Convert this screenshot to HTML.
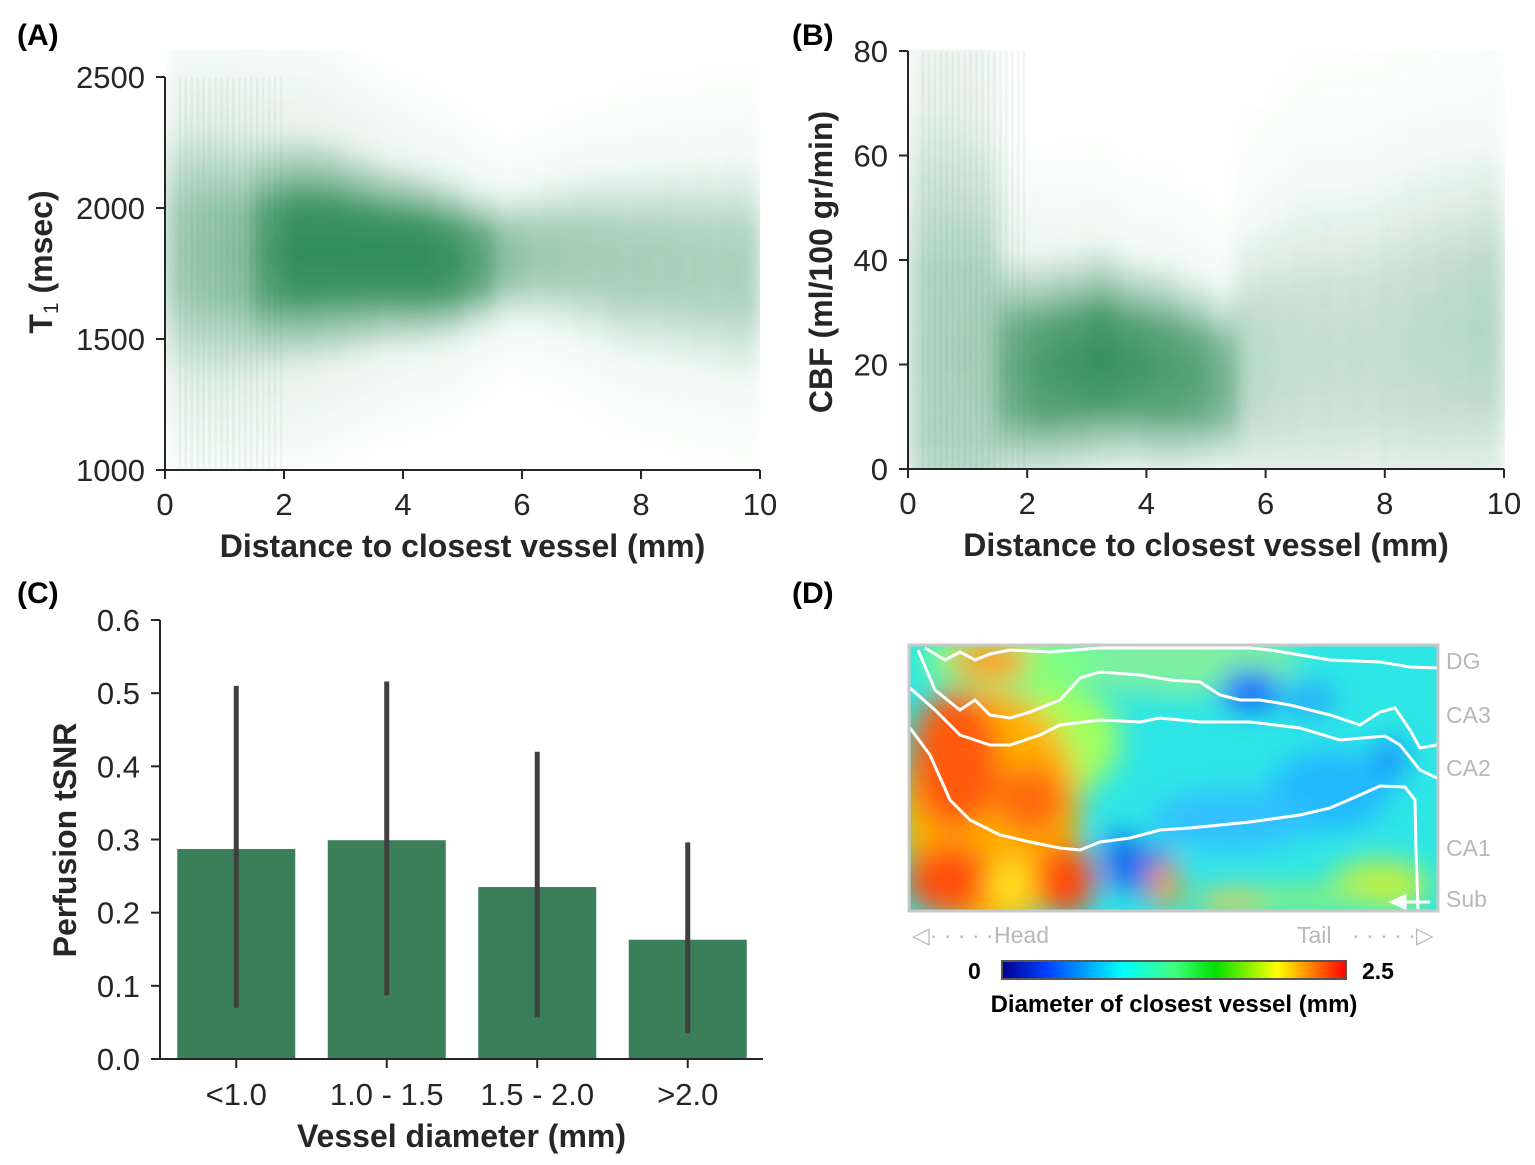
<!DOCTYPE html>
<html><head><meta charset="utf-8">
<style>
body{margin:0;background:#fff;}
svg{display:block;font-family:"Liberation Sans",Arial,sans-serif;}
.tick{font-size:31px;fill:#262626;}
.lab{font-size:32px;font-weight:bold;fill:#262626;}
.pl{font-size:30px;font-weight:bold;fill:#000;}
.ax{stroke:#262626;stroke-width:2;fill:none;}
</style></head>
<body>
<svg id="fig" width="1535" height="1165" viewBox="0 0 1535 1165">
<defs>
<linearGradient id="vg" x1="0" y1="0" x2="0" y2="1">
<stop offset="0" stop-color="#2e8b57" stop-opacity="0"/>
<stop offset="0.15" stop-color="#2e8b57" stop-opacity="0.35"/>
<stop offset="0.32" stop-color="#2e8b57" stop-opacity="0.9"/>
<stop offset="0.5" stop-color="#2e8b57" stop-opacity="1"/>
<stop offset="0.68" stop-color="#2e8b57" stop-opacity="0.9"/>
<stop offset="0.85" stop-color="#2e8b57" stop-opacity="0.35"/>
<stop offset="1" stop-color="#2e8b57" stop-opacity="0"/>
</linearGradient>
<filter id="bl" x="-10%" y="-10%" width="120%" height="120%"><feGaussianBlur stdDeviation="9 7"/></filter>
<filter id="hb" x="-20%" y="-20%" width="140%" height="140%"><feGaussianBlur stdDeviation="14"/></filter>
<clipPath id="clipA"><rect x="166" y="50" width="594" height="419"/></clipPath>
<clipPath id="clipB"><rect x="909" y="50" width="596" height="419"/></clipPath>
<clipPath id="clipD"><rect x="910" y="646" width="527" height="264"/></clipPath>
<linearGradient id="jet" x1="0" x2="1" y1="0" y2="0">
<stop offset="0" stop-color="#00008f"/><stop offset="0.13" stop-color="#0040ff"/>
<stop offset="0.35" stop-color="#00ffff"/><stop offset="0.5" stop-color="#40ff80"/>
<stop offset="0.62" stop-color="#00e000"/><stop offset="0.8" stop-color="#ffff00"/>
<stop offset="0.9" stop-color="#ff8000"/><stop offset="1" stop-color="#ff0000"/>
</linearGradient>
</defs>

<text class="pl" x="17" y="45">(A)</text>
<text class="pl" x="792" y="45">(B)</text>
<text class="pl" x="17" y="603">(C)</text>
<text class="pl" x="792" y="603">(D)</text>

<g id="panelA"></g>
<g id="panelB"></g>
<g id="panelC"></g>

<g>
<g clip-path="url(#clipD)">
<rect x="909" y="645" width="530" height="266" fill="#2ee6e6"/>
<g filter="url(#hb)">
<ellipse cx="1180" cy="660" rx="120" ry="35" fill="#7ff0a0"/>
<ellipse cx="1250" cy="690" rx="30" ry="20" fill="#1060ff"/>
<ellipse cx="1310" cy="700" rx="25" ry="15" fill="#20a0ff"/>
<ellipse cx="1390" cy="760" rx="15" ry="20" fill="#1080ff"/>
<ellipse cx="1330" cy="790" rx="60" ry="40" fill="#20b8ff"/>
<ellipse cx="1230" cy="820" rx="80" ry="30" fill="#30c0ff"/>
<ellipse cx="1150" cy="870" rx="25" ry="25" fill="#1a6cf0"/>
<ellipse cx="1120" cy="860" rx="15" ry="30" fill="#1060f0"/>
<ellipse cx="1380" cy="885" rx="50" ry="25" fill="#c0f040"/>
<ellipse cx="1300" cy="900" rx="70" ry="15" fill="#80f080"/>
<ellipse cx="1230" cy="902" rx="35" ry="12" fill="#f0d040"/>
<ellipse cx="1165" cy="885" rx="15" ry="25" fill="#ff9a00"/>
<ellipse cx="1010" cy="660" rx="90" ry="30" fill="#80ff80"/>
<ellipse cx="1060" cy="740" rx="60" ry="55" fill="#a0ff60"/>
<ellipse cx="990" cy="810" rx="90" ry="120" fill="#ffb000"/>
<ellipse cx="990" cy="660" rx="40" ry="20" fill="#ff9a10"/>
<ellipse cx="955" cy="760" rx="45" ry="70" fill="#ff5a10"/>
<ellipse cx="1030" cy="800" rx="35" ry="35" fill="#ff6a10"/>
<ellipse cx="950" cy="880" rx="45" ry="35" fill="#ff5010"/>
<ellipse cx="1065" cy="880" rx="30" ry="35" fill="#ff4a10"/>
<ellipse cx="1010" cy="885" rx="25" ry="25" fill="#ffe020"/>
</g>
<g fill="none" stroke="#fff" stroke-width="3">
<path d="M925,648 L945,660 L960,652 L975,660 L990,654 L1010,650 L1050,652 L1100,648 L1250,648 L1270,650 L1300,655 L1330,660 L1380,662 L1410,667 L1437,668"/>
<path d="M918,650 L935,690 L960,710 L975,700 L990,715 L1010,718 L1030,712 L1060,700 L1080,678 L1100,672 L1140,675 L1170,680 L1200,682 L1220,695 L1240,700 L1260,700 L1290,705 L1330,715 L1360,725 L1380,712 L1395,708 L1410,730 L1420,748 L1437,745"/>
<path d="M910,688 L935,710 L960,735 L990,745 L1010,745 L1040,735 L1060,725 L1100,720 L1140,722 L1160,718 L1200,722 L1250,722 L1300,728 L1340,740 L1385,736 L1400,745 L1420,770 L1437,778"/>
<path d="M910,728 L930,755 L950,800 L970,820 L1000,835 L1030,842 L1060,848 L1080,850 L1100,842 L1130,838 L1160,830 L1190,828 L1220,825 L1250,822 L1300,815 L1330,808 L1360,795 L1380,786 L1405,787 L1415,800 L1416,850 L1418,909"/>
<path d="M1392,902 L1430,902"/>
<path d="M1392,902 L1405,896 L1405,908 Z" fill="#fff"/>
</g>
</g>
<rect x="909" y="645" width="529" height="266" fill="none" stroke="#c8c8c8" stroke-width="3"/>
<g font-size="23" fill="#b8b8b8">
<text x="1446" y="669">DG</text>
<text x="1446" y="723">CA3</text>
<text x="1446" y="776">CA2</text>
<text x="1446" y="856">CA1</text>
<text x="1446" y="907">Sub</text>
<text x="994" y="943">Head</text>
<text x="1297" y="943">Tail</text>
<text x="912" y="943">◁· · · · ·</text>
<text x="1352" y="943">· · · · ·▷</text>
</g>
<rect x="1002" y="961" width="344" height="18" fill="url(#jet)" stroke="#555" stroke-width="2"/>
<text x="968" y="979" font-size="23" font-weight="bold">0</text>
<text x="1362" y="979" font-size="23" font-weight="bold">2.5</text>
<text x="1174" y="1012" font-size="24" font-weight="bold" text-anchor="middle">Diameter of closest vessel (mm)</text>
</g>
</svg>
<script>
const NS="http://www.w3.org/2000/svg";
function mk(p,t,a){const e=document.createElementNS(NS,t);for(const k in a)e.setAttribute(k,a[k]);p.appendChild(e);return e;}

const aBinX=[0.25,0.75,1.25,1.75,2.25,2.75,3.25,3.75,4.25,4.75,5.25,5.75,6.25,6.75,7.25,7.75,8.25,8.75,9.25,9.75];
const aCenter=[1830,1830,1820,1830,1840,1840,1830,1820,1810,1800,1800,1810,1820,1820,1810,1790,1790,1780,1770,1760];
const aSpread=[300,310,310,300,300,290,270,250,240,220,190,170,180,200,220,240,250,260,270,280];
const aCore=[0.3,0.38,0.45,0.85,1,1,1,1,1,0.95,0.8,0.5,0.42,0.4,0.38,0.37,0.36,0.35,0.34,0.34];
const aHalo=[0.22,0.22,0.2,0.18,0.18,0.16,0.14,0.12,0.1,0.1,0.09,0.08,0.08,0.08,0.08,0.08,0.08,0.08,0.08,0.08];
const aXTicks=[0,2,4,6,8,10];
const aYTicks=[1000,1500,2000,2500];

const bBinX=[0.25,0.75,1.25,1.75,2.25,2.75,3.25,3.75,4.25,4.75,5.25,5.75,6.25,6.75,7.25,7.75,8.25,8.75,9.25,9.75];
const bCenter=[22,22,22,19,19,20,21,20,19,18,17,20,21,22,22,23,24,25,26,27];
const bSpread=[30,30,28,15,15,15,15,14,14,13,12,18,20,22,22,22,23,24,24,24];
const bCore=[0.22,0.26,0.3,0.7,0.85,0.9,0.95,0.9,0.85,0.8,0.65,0.28,0.24,0.22,0.22,0.22,0.24,0.26,0.28,0.3];
const bHalo=[0.18,0.18,0.16,0.13,0.11,0.1,0.09,0.08,0.08,0.08,0.07,0.06,0.06,0.06,0.06,0.06,0.06,0.06,0.06,0.06];
const bXTicks=[0,2,4,6,8,10];
const bYTicks=[0,20,40,60,80];

const cCats=["<1.0","1.0 - 1.5","1.5 - 2.0",">2.0"];
const cVals=[0.287,0.299,0.235,0.163];
const cLo=[0.07,0.087,0.057,0.035];
const cHi=[0.51,0.516,0.42,0.296];
const cYTicks=[0.0,0.1,0.2,0.3,0.4,0.5,0.6];

function scatterPanel(g,clip,x0,x1,xmin,xmax,y0,y1,ymin,ymax,binX,center,spread,core,halo,xt,yt,yTitle,yTitleHtml){
  const sx=v=>x0+(v-xmin)/(xmax-xmin)*(x1-x0);
  const sy=v=>y0-(v-ymin)/(ymax-ymin)*(y0-y1);
  const bw=(x1-x0)/(xmax-xmin)*0.5;
  const cg=mk(g,'g',{'clip-path':`url(#${clip})`});
  const hg=mk(cg,'g',{filter:'url(#bl)'});
  const kg=mk(cg,'g',{filter:'url(#bl)'});
  binX.forEach((bx,i)=>{
    const xl=sx(bx)-bw/2;
    const h=mk(hg,'rect',{x:xl,y:sy(center[i]+spread[i]*3),width:bw+1,height:sy(center[i]-spread[i]*3)-sy(center[i]+spread[i]*3),fill:'url(#vg)','fill-opacity':halo[i]});
    
    
    const k=mk(kg,'rect',{x:xl,y:sy(center[i]+spread[i]*1.5),width:bw+1,height:sy(center[i]-spread[i]*1.5)-sy(center[i]+spread[i]*1.5),fill:'url(#vg)','fill-opacity':core[i]});
    
    
  });
  for(let v=0.25;v<2;v+=0.1){
    const s=mk(cg,'line',{x1:sx(v),x2:sx(v),y1:y1,y2:y0,stroke:'#2e8b57','stroke-opacity':0.07,'stroke-width':2.5});
    
    
  }
  mk(g,'path',{d:`M${x0},${y1} V${y0} H${x1}`,class:'ax'});
  xt.forEach(t=>{mk(g,'line',{x1:sx(t),x2:sx(t),y1:y0,y2:y0+9,class:'ax'});
    const e=mk(g,'text',{x:sx(t),y:y0+45,'text-anchor':'middle',class:'tick'});e.textContent=t;
    });
  yt.forEach(t=>{mk(g,'line',{x1:x0-9,x2:x0,y1:sy(t),y2:sy(t),class:'ax'});
    const e=mk(g,'text',{x:x0-20,y:sy(t)+11,'text-anchor':'end',class:'tick'});e.textContent=t;
    });
  const xl=mk(g,'text',{x:(x0+x1)/2,y:y0+87,'text-anchor':'middle',class:'lab'});xl.textContent='Distance to closest vessel (mm)';
  
  const yl=mk(g,'text',{transform:`translate(${yTitle[0]},${yTitle[1]}) rotate(-90)`,'text-anchor':'middle',class:'lab'});
  yl.innerHTML=yTitleHtml;
  
}
scatterPanel(document.getElementById('panelA'),'clipA',165,760,0,10,470,77,1000,2500,aBinX,aCenter,aSpread,aCore,aHalo,aXTicks,aYTicks,[52,262],'T<tspan font-size="21" font-weight="normal" dy="6">1</tspan><tspan dy="-6"> (msec)</tspan>');
scatterPanel(document.getElementById('panelB'),'clipB',908,1504,0,10,469,51,0,80,bBinX,bCenter,bSpread,bCore,bHalo,bXTicks,bYTicks,[832,262],'CBF (ml/100 gr/min)');

(function(){
  const g=document.getElementById('panelC');
  const x0=160,x1=763,y0=1059,y1=620;
  const sy=v=>y0-v/0.6*(y0-y1);
  const step=150.5;
  const cx=i=>x0+1+step*(i+0.5);
  const bw=118;
  cCats.forEach((c,i)=>{
    const r=mk(g,'rect',{x:cx(i)-bw/2,y:sy(cVals[i]),width:bw,height:y0-sy(cVals[i]),fill:'#3a7f5a'});
    
    const e=mk(g,'line',{x1:cx(i),x2:cx(i),y1:sy(cLo[i]),y2:sy(cHi[i]),stroke:'#3f3f3f','stroke-width':5});
    
    mk(g,'line',{x1:cx(i),x2:cx(i),y1:y0,y2:y0+9,class:'ax'});
    const t=mk(g,'text',{x:cx(i),y:y0+46,'text-anchor':'middle',class:'tick'});t.textContent=c;
    
  });
  mk(g,'path',{d:`M${x0},${y1} V${y0} H${x1}`,class:'ax'});
  cYTicks.forEach(v=>{mk(g,'line',{x1:x0-9,x2:x0,y1:sy(v),y2:sy(v),class:'ax'});
    const t=mk(g,'text',{x:x0-20,y:sy(v)+11,'text-anchor':'end',class:'tick'});t.textContent=v.toFixed(1);
    });
  const xl=mk(g,'text',{x:(x0+x1)/2,y:1147,'text-anchor':'middle',class:'lab'});xl.textContent='Vessel diameter (mm)';
  
  const yl=mk(g,'text',{transform:'translate(76,840) rotate(-90)','text-anchor':'middle',class:'lab'});yl.textContent='Perfusion tSNR';
  
})();
</script>
</body></html>
